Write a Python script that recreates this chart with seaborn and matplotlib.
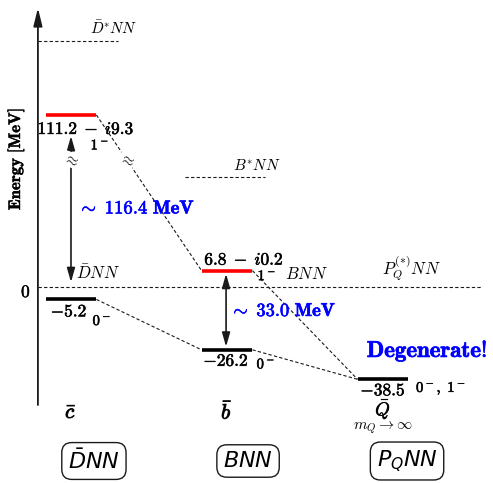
import numpy as np
import matplotlib
matplotlib.use("Agg")
import matplotlib.pyplot as plt
import matplotlib.patheffects as pe
import matplotlib.transforms as mtransforms
import seaborn as sns

# heavy antiquark flavours, placed at x = 0, 1, 2
quarks = [r"$\bar{c}$", r"$\bar{b}$", r"$\bar{Q}$"]
systems = [r"$\bar{D}NN$", r"$BNN$", r"$P_QNN$"]
thresh_names = [r"$\bar{D}NN$", r"$BNN$", r"$P_Q^{(*)}NN$"]
star_names = [r"$\bar{D}^{*}NN$", r"$B^{*}NN$"]
star_energy = [142.0, 46.0]

# states: flavour index, energy [MeV], width, J^P
state_x = [0, 0, 1, 1, 2]
state_e = [111.2, -5.2, 6.8, -26.2, -38.5]
state_w = [9.3, 0.0, 0.2, 0.0, 0.0]
state_jp = [r"$\mathbf{1^-}$", r"$\mathbf{0^-}$", r"$\mathbf{1^-}$", r"$\mathbf{0^-}$", r"$\mathbf{0^-,\ 1^-}$"]
links = [(0, 2), (1, 3), (2, 4), (3, 4)]
gaps = [116.4, 33.0]


def fwd(e):
    e = np.asarray(e, float)
    return np.where(e <= 50, e, np.where(e >= 100, e - 39.5, 50 + (e - 50) * 0.21))


def inv(y):
    y = np.asarray(y, float)
    return np.where(y <= 50, y, np.where(y >= 60.5, y + 39.5, 50 + (y - 50) / 0.21))


def bold(col="k", w=0.35):
    return [pe.withStroke(linewidth=w, foreground=col)]


sns.set_theme(style="white")
plt.rcParams["mathtext.fontset"] = "cm"
plt.rcParams["text.color"] = "black"

fig = plt.figure(figsize=(4.93, 4.83), dpi=100)
ax = fig.add_axes([0, 0, 1, 1])
ax.set_yscale("function", functions=(fwd, inv))
ax.set_xlim(-0.455, 2.705)
ax.set_ylim(-81.7, 159.1)
ax.axis("off")

hw = 0.163
dash = (0, (3, 2))
axis_x = -0.212
fig_y = mtransforms.blended_transform_factory(ax.transData, fig.transFigure)


def fy(py):
    return 1 - py / 483


# energy axis
ax.annotate("", xy=(axis_x, float(inv(116.3))), xytext=(axis_x, -49.2),
            arrowprops=dict(arrowstyle="-|>,head_length=0.9,head_width=0.22",
                            lw=1.3, color="k", shrinkA=0, shrinkB=0))
fig.text(26 / 493, fy(292), r"$\mathbf{0}$", ha="center", va="center", fontsize=12.5,
         path_effects=bold())
fig.text(16 / 493, fy(159), r"$\mathbf{Energy\ [MeV]}$", ha="center", va="center",
         rotation=90, fontsize=12, path_effects=bold())

# thresholds
ax.hlines(0, axis_x, 2.635, colors="k", lw=0.8, linestyles=[dash])
for xx, name in zip([0.173, 1.51, 2.18], thresh_names):
    ax.annotate(name, (xx, 0), xytext=(0, 4), textcoords="offset pixels",
                ha="center", va="bottom", fontsize=12)
ax.hlines(star_energy[0], axis_x, 0.301, colors="k", lw=0.8, linestyles=[dash])
ax.annotate(star_names[0], (0.276, star_energy[0]), xytext=(0, 4), textcoords="offset pixels",
            ha="center", va="bottom", fontsize=11)
ax.hlines(star_energy[1], 0.731, 1.244, colors="k", lw=0.8, linestyles=[dash])
ax.annotate(star_names[1], (1.192, star_energy[1]), xytext=(0, 4), textcoords="offset pixels",
            ha="center", va="bottom", fontsize=11)

# connecting dashed lines
for a, b in links:
    sns.lineplot(x=[state_x[a] + hw, state_x[b] - hw], y=[state_e[a], state_e[b]],
                 ax=ax, color="k", lw=0.8, linestyle=dash)

# levels and their labels: (value offset, J^P offset) in pixels
offsets = [((15, -14), (29, -30)), ((-2, -12), (31, -21)), ((17, 11), (40, -5)),
           ((-1, -11), (39, -14)), ((0, -11), (33, -9))]
for x, e, w, jp, (o1, o2) in zip(state_x, state_e, state_w, state_jp, offsets):
    col = "red" if w > 0 else "black"
    ax.hlines(e, x - hw, x + hw, colors=col, lw=2.6, zorder=3)
    if w > 0:
        lab = r"$\mathbf{%.1f}\;-\;\mathit{i}\mathbf{%.1f}$" % (e, w)
    else:
        lab = r"$-\mathbf{%.1f}$" % abs(e)
    kw = dict(textcoords="offset pixels", va="center", path_effects=bold(w=0.45))
    ax.annotate(lab, (x, e), xytext=o1, ha="center", fontsize=12.5, **kw)
    ax.annotate(jp, (x, e), xytext=o2, ha="left" if x == 2 else "center", fontsize=10.5, **kw)

# mass gaps
arr = dict(arrowstyle="<|-|>,head_length=0.7,head_width=0.2", lw=1.2, color="k",
           shrinkA=0, shrinkB=0)
ax.annotate("", xy=(0, 2.0), xytext=(0, float(inv(62.9))), arrowprops=arr)
ax.annotate("", xy=(0.994, state_e[3] + 1.3), xytext=(0.994, state_e[2] - 1.3), arrowprops=arr)
ax.text(0.045, 32.9, r"$\mathbf{\sim\ %.1f\ MeV}$" % gaps[0], color="blue",
        ha="left", va="center", fontsize=13.5, path_effects=bold("blue", 0.45))
ax.text(1.02, -10.0, r"$\mathbf{\sim\ %.1f\ MeV}$" % gaps[1], color="blue",
        ha="left", va="center", fontsize=13.3, path_effects=bold("blue", 0.45))

# break marks
for bx in [0.0, 0.359]:
    ax.text(bx, float(inv(53.0)), r"$\approx$", ha="center", va="center", fontsize=11,
            rotation=-20, bbox=dict(fc="white", ec="none", pad=0.0), zorder=4)

ax.text(2.282, -26.7, r"$\mathbf{Degenerate!}$", color="blue", ha="center", va="center",
        fontsize=16.5, path_effects=bold("blue", 0.5))

# flavour labels and boxed systems
for i, q in enumerate(quarks):
    ax.text(i, fy(412 if i < 2 else 410), q, transform=fig_y, ha="center", va="center",
            fontsize=15 if i < 2 else 13.5, path_effects=bold(w=0.7 if i < 2 else 0.4))
ax.text(2, fy(428), r"$m_Q\to\infty$", transform=fig_y, ha="center", va="center", fontsize=11)
for xx, s in zip([0.147, 1.135, 2.154], systems):
    ax.text(xx, fy(461), s, transform=fig_y, ha="center", va="center", fontsize=16,
            math_fontfamily="dejavusans",
            bbox=dict(boxstyle="round,pad=0.28,rounding_size=0.45", fc="white", ec="k", lw=1))

fig.savefig("out.png", dpi=100)
